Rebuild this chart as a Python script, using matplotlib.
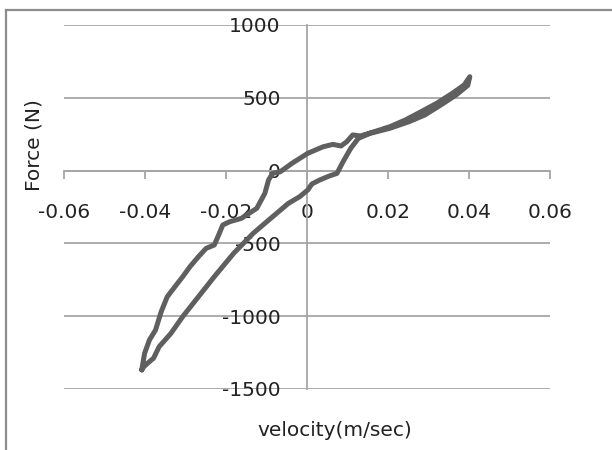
import numpy as np
import matplotlib.pyplot as plt
from matplotlib.lines import Line2D

vel_up = [-0.0408, -0.0401, -0.0389, -0.0374, -0.0360, -0.0345, -0.0326, -0.0307,
          -0.0289, -0.0268, -0.0249, -0.0229, -0.0220, -0.0208, -0.0191, -0.0162,
          -0.0124, -0.0104, -0.0095, -0.0085, -0.0066, -0.0037, 0.0002, 0.0040,
          0.0064, 0.0084, 0.0098, 0.0113, 0.0132, 0.0166, 0.0205, 0.0243,
          0.0282, 0.0320, 0.0359, 0.0388, 0.0402]
force_up = [-1369, -1255, -1163, -1095, -969, -866, -797, -729,
            -660, -591, -534, -511, -454, -374, -351, -328,
            -259, -156, -65, -19, -8, 50, 119, 164,
            180, 169, 198, 245, 238, 267, 302, 348,
            405, 462, 531, 588, 645]
vel_down = [0.0397, 0.0368, 0.0330, 0.0291, 0.0252, 0.0204, 0.0156, 0.0127,
            0.0108, 0.0089, 0.0074, 0.0055, 0.0031, 0.0012, 0.0002, -0.0018,
            -0.0046, -0.0085, -0.0133, -0.0181, -0.0229, -0.0268, -0.0307, -0.0336,
            -0.0365, -0.0379, -0.0389, -0.0403, -0.0408]
force_down = [585, 519, 450, 382, 336, 290, 256, 222,
              153, 61, -19, -37, -65, -92, -133, -179,
              -225, -317, -431, -568, -729, -866, -1003, -1118,
              -1209, -1289, -1312, -1347, -1369]

x_ticks = [-0.06, -0.04, -0.02, 0, 0.02, 0.04, 0.06]
y_ticks = [-1500, -1000, -500, 0, 500, 1000]

plt.rcParams['font.family'] = 'DejaVu Sans'
fs = 14.5
axis_col = '#a6a6a6'

fig = plt.figure(figsize=(6.12, 4.5), dpi=100)
ax = fig.add_axes([64/612, 1 - 389/450, 486/612, 364/450])

ax.plot(vel_up + vel_down, force_up + force_down, color='#5f5f5f', lw=3.6,
        solid_joinstyle='round', solid_capstyle='round', zorder=3)

ax.set_xlim(-0.06, 0.06)
ax.set_ylim(-1500, 1000)
ax.set_xticks(x_ticks)
ax.set_xticklabels(['-0.06', '-0.04', '-0.02', '0', '0.02', '0.04', '0.06'])
ax.set_yticks(y_ticks)
ax.set_yticklabels([str(v) for v in y_ticks])

for s in ('top', 'right'):
  ax.spines[s].set_visible(False)
ax.spines['left'].set_position(('data', 0))
ax.spines['bottom'].set_position(('data', 0))
for s in ('left', 'bottom'):
  ax.spines[s].set_color(axis_col)
  ax.spines[s].set_linewidth(1.3)

ax.yaxis.grid(True, color=axis_col, lw=1.3)
ax.set_axisbelow(True)
ax.tick_params(axis='x', direction='out', length=6, width=1.3, color=axis_col,
               pad=17, labelsize=fs, labelcolor='#222222')
ax.tick_params(axis='y', length=0, pad=19, labelsize=fs, labelcolor='#222222')

fig.text(34/612, 1 - 145/450, 'Force (N)', rotation=90, ha='center', va='center',
         fontsize=fs, color='#222222')
fig.text(335/612, 1 - 430/450, 'velocity(m/sec)', ha='center', va='center',
         fontsize=fs, color='#222222')

# outer chart frame (left and top edges visible)
fig.add_artist(Line2D([6/612, 6/612], [0, 1 - 10/450], transform=fig.transFigure,
                      color='#8c8c8c', lw=1.6))
fig.add_artist(Line2D([6/612, 1], [1 - 10/450, 1 - 10/450], transform=fig.transFigure,
                      color='#8c8c8c', lw=1.6))

fig.savefig('out.png', dpi=100)
